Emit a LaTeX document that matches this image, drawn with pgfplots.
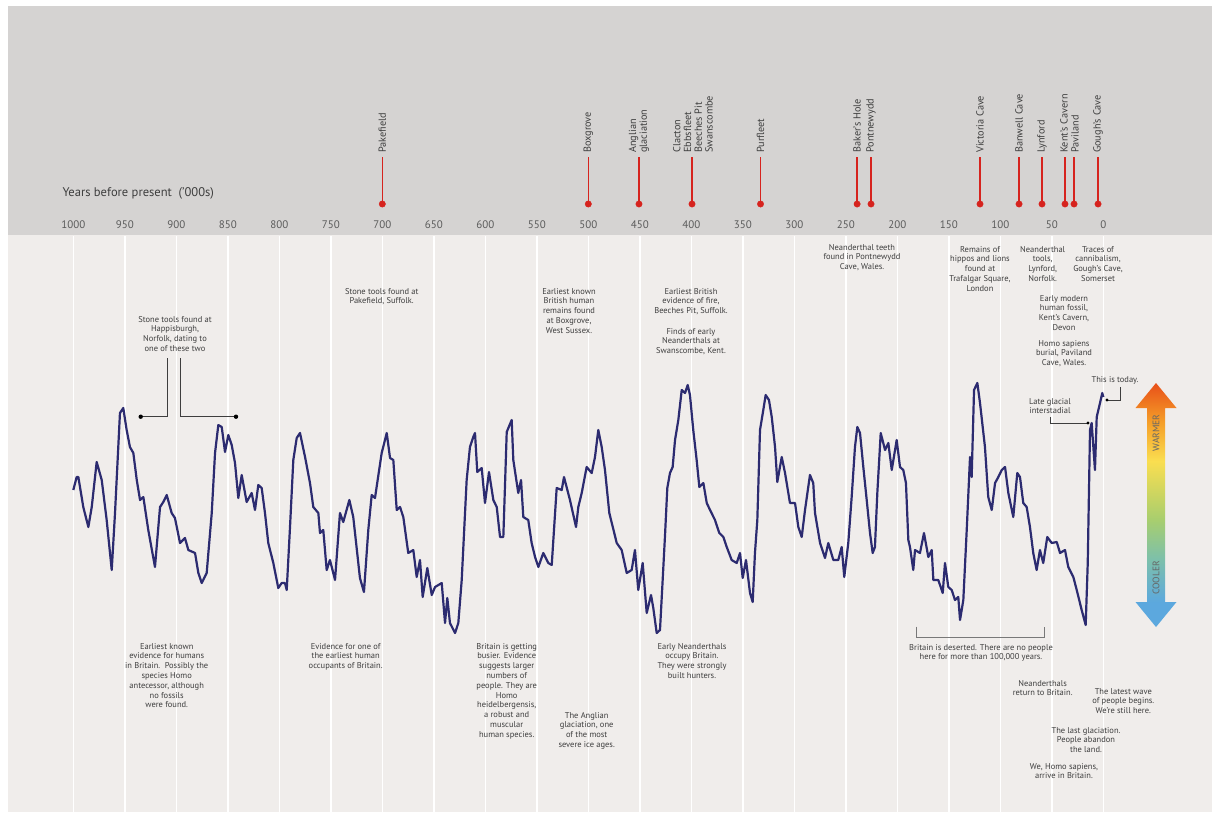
\documentclass[border=0pt]{standalone}
\usepackage{pgfplots}
\pgfplotsset{compat=1.18}
\usepackage{pgfplotstable}
\usepackage{fontspec}
\setmainfont{PT Sans}
\definecolor{band}{RGB}{213,211,210}
\definecolor{bg}{RGB}{240,237,235}
\definecolor{curvec}{RGB}{44,43,112}
\definecolor{site}{RGB}{214,35,30}
\definecolor{txt}{RGB}{62,62,62}
\definecolor{cblue}{RGB}{92,168,222}
\definecolor{cteal}{RGB}{125,192,170}
\definecolor{cgreen}{RGB}{168,206,110}
\definecolor{cyellow}{RGB}{250,222,80}
\definecolor{corange}{RGB}{245,158,40}
\definecolor{cred}{RGB}{232,80,25}
\pgfdeclareverticalshading{warmcool}{100bp}{color(0bp)=(cblue); color(30bp)=(cblue); color(39bp)=(cteal); color(47bp)=(cgreen); color(59bp)=(cyellow); color(67bp)=(corange); color(75bp)=(cred); color(100bp)=(cred)}
\newcommand\af{\fontsize{8.5}{9.8}\selectfont}
\newcommand\sitef{\fontsize{10.3}{10.8}\selectfont}

% climate record: kyr before present, relative temperature index (higher = warmer)
\pgfplotstableread{
kyr v
1000.0 324
996.7 337
995.1 337
990.3 307
985.4 287
982.1 307
977.3 352
972.4 334
967.6 294
962.7 244
959.5 301
954.7 401
951.5 406
948.2 384
945.0 367
941.7 361
938.4 334
935.2 314
932.0 317
927.2 284
920.7 247
915.8 307
912.6 312
909.3 319
904.5 301
901.3 296
896.4 271
891.6 276
888.3 264
881.8 261
878.6 241
875.3 231
870.5 241
865.6 301
862.4 361
859.2 389
855.9 387
852.7 362
849.5 379
846.2 369
843.0 351
839.8 316
836.5 339
831.7 312
826.8 321
823.6 304
820.4 329
817.1 326
813.9 301
810.7 271
805.8 251
801.0 226
797.7 231
794.5 231
792.8 224
789.6 287
786.4 354
783.1 376
779.9 381
775.0 357
770.2 331
767.0 307
762.1 301
760.5 281
757.3 284
754.0 244
750.8 254
745.9 234
741.1 301
737.9 292
732.0 314
728.2 297
721.7 236
717.8 222
713.6 284
710.3 319
707.1 316
700.6 361
695.7 381
692.5 356
689.3 354
686.0 304
682.8 307
679.6 297
674.8 261
669.9 264
666.6 237
663.4 254
660.8 217
656.3 246
652.0 219
648.8 227
642.3 231
639.1 191
636.9 216
634.3 191
629.4 181
626.2 191
622.9 234
618.1 334
614.9 367
611.7 377
610.0 381
607.8 342
603.5 346
600.3 311
596.4 342
592.2 314
588.9 307
585.7 277
582.5 277
579.2 382
574.4 394
572.8 354
568.0 321
565.3 334
563.1 297
558.3 294
555.0 271
551.7 257
548.5 247
543.7 261
538.8 251
535.5 249
530.7 326
525.8 324
523.6 337
517.8 314
511.9 287
509.7 307
506.4 321
501.6 347
496.7 341
493.5 357
490.3 384
487.0 367
483.8 344
479.6 301
472.4 271
467.6 264
462.7 241
457.9 244
454.7 264
451.5 224
447.2 251
443.3 201
439.1 219
436.9 206
433.6 181
430.4 184
427.8 234
425.5 279
423.3 326
420.7 341
418.1 347
415.8 374
412.6 394
409.3 424
406.1 421
403.5 429
401.3 419
398.1 384
394.8 354
392.2 327
388.3 331
385.0 311
381.8 304
377.0 294
372.8 281
368.9 277
365.6 267
360.8 254
355.9 251
352.7 261
350.1 236
346.9 254
343.0 221
340.4 212
338.2 261
335.9 294
333.3 384
330.1 404
327.8 419
324.6 414
321.9 397
318.7 367
316.5 332
312.2 357
309.0 341
304.2 311
299.3 311
296.1 287
292.8 277
289.6 304
284.8 339
281.6 331
279.9 301
275.0 271
270.2 256
267.0 271
262.1 254
257.3 254
254.0 267
251.5 237
247.6 271
244.3 317
241.1 367
238.8 387
236.2 381
233.0 347
229.7 314
226.5 281
223.9 261
221.7 267
219.4 321
216.1 381
211.9 364
208.7 371
205.4 344
200.6 374
197.4 347
194.2 344
191.6 331
189.3 274
187.7 267
184.5 244
182.8 264
178.0 261
174.1 281
169.9 257
166.6 264
165.0 234
160.2 234
155.9 221
153.7 251
150.5 227
147.2 224
144.0 214
140.8 217
139.1 194
135.9 214
132.6 284
129.4 357
127.8 337
125.5 424
122.3 431
119.7 411
114.9 367
111.7 317
108.3 304
105.1 331
101.9 337
98.6 344
95.4 347
92.2 321
87.4 297
83.5 341
80.9 337
77.7 311
74.4 307
71.2 287
68.0 261
64.7 244
61.5 264
58.3 251
54.4 277
50.1 271
45.2 272
42.0 261
37.2 264
34.0 247
29.1 237
25.8 224
21.0 204
17.1 189
15.1 251
12.9 384
11.3 391
8.1 344
6.4 397
3.2 411
1.0 421
0.0 417
}\climate

% sites: kyr before present, marker row on the page
\pgfplotstableread{
kyr row
700.0 204
500.0 204
450.8 204
399.3 204
332.8 204
239.0 204
225.5 204
119.7 204
81.8 204
59.5 204
37.2 204
28.4 204
5.1 204
}\sites

\begin{document}
\begin{tikzpicture}
\begin{axis}[
  scale only axis, width=1214bp, height=814bp,
  xmin=0, xmax=1214, ymin=0, ymax=814, y dir=reverse,
  hide axis, clip=false]
\fill[white] (axis cs:0,0) rectangle (axis cs:1214,814);
\fill[band] (axis cs:8,6) rectangle (axis cs:1212,235);
\fill[bg] (axis cs:8,235) rectangle (axis cs:1212,812);
\pgfplotsinvokeforeach{73.3,124.8,176.3,227.8,279.3,330.8,382.3,433.8,485.3,536.8,588.3,639.8,691.3,742.8,794.3,845.8,897.3,948.8,1000.3,1051.8,1103.3}{
  \draw[white, line width=1.4bp] (axis cs:#1,236) -- (axis cs:#1,812);
}
% axis title and tick labels
\node[anchor=west, text=txt, font=\fontsize{12.6}{13}\selectfont] at (axis cs:59,193) {Years before present\ \ (’000s)};
\begin{scope}[every node/.style={text=txt!85, font=\fontsize{11}{12}\selectfont}]
\node at (axis cs:73.3,225) {1000};
\node at (axis cs:124.8,225) {950};
\node at (axis cs:176.3,225) {900};
\node at (axis cs:227.8,225) {850};
\node at (axis cs:279.3,225) {800};
\node at (axis cs:330.8,225) {750};
\node at (axis cs:382.3,225) {700};
\node at (axis cs:433.8,225) {650};
\node at (axis cs:485.3,225) {600};
\node at (axis cs:536.8,225) {550};
\node at (axis cs:588.3,225) {500};
\node at (axis cs:639.8,225) {450};
\node at (axis cs:691.3,225) {400};
\node at (axis cs:742.8,225) {350};
\node at (axis cs:794.3,225) {300};
\node at (axis cs:845.8,225) {250};
\node at (axis cs:897.3,225) {200};
\node at (axis cs:948.8,225) {150};
\node at (axis cs:1000.3,225) {100};
\node at (axis cs:1051.8,225) {50};
\node at (axis cs:1103.3,225) {0};
\end{scope}
% site markers
\addplot[site, line width=1.4bp, no markers, quiver={u=0, v=-47}]
  table[x expr=1103.3-1.03*\thisrow{kyr}, y=row] {\sites};
\addplot[site, only marks, mark=*, mark size=3.2bp]
  table[x expr=1103.3-1.03*\thisrow{kyr}, y=row] {\sites};
\begin{scope}[every node/.style={rotate=90, anchor=west, align=left, text=txt, font=\sitef, inner sep=0pt}]
\node at (axis cs:382.3,153) {Pakefield};
\node at (axis cs:588.3,153) {Boxgrove};
\node at (axis cs:639,153) {Anglian\\glaciation};
\node at (axis cs:693,153) {Clacton\\Ebbsfleet\\Beeches Pit\\Swanscombe};
\node at (axis cs:760.5,153) {Purfleet};
\node at (axis cs:857,153) {Baker’s Hole};
\node at (axis cs:871,153) {Pontnewydd};
\node at (axis cs:980,153) {Victoria Cave};
\node at (axis cs:1019,153) {Banwell Cave};
\node at (axis cs:1042,153) {Lynford};
\node at (axis cs:1064,153) {Kent’s Cavern};
\node at (axis cs:1075,153) {Paviland};
\node at (axis cs:1098,153) {Gough’s Cave};
\end{scope}
% warmer / cooler arrow
\shade[shading=warmcool] (axis cs:1156,383) -- (axis cs:1176.5,408) -- (axis cs:1165,408) -- (axis cs:1165,602) -- (axis cs:1176.5,602) -- (axis cs:1156,627) -- (axis cs:1135.5,602) -- (axis cs:1147,602) -- (axis cs:1147,408) -- (axis cs:1135.5,408) -- cycle;
\node[rotate=90, text=txt!80, font=\fontsize{9.5}{10}\selectfont] at (axis cs:1156,433) {WARMER};
\node[rotate=90, text=txt!80, font=\fontsize{9.5}{10}\selectfont] at (axis cs:1156,578) {COOLER};
% connector lines
\draw[txt, line width=0.8bp] (axis cs:167.3,358) -- (axis cs:167.3,416.7) -- (axis cs:140.7,416.7);
\draw[txt, line width=0.8bp] (axis cs:180.7,358) -- (axis cs:180.7,416.7) -- (axis cs:236,416.7);
\fill[black] (axis cs:140.7,416.7) circle[radius=2.2bp];
\fill[black] (axis cs:236,416.7) circle[radius=2.2bp];
\draw[txt, line width=0.8bp] (axis cs:1107,400) -- (axis cs:1120,400) -- (axis cs:1120,387);
\fill[black] (axis cs:1107,400) circle[radius=1.6bp];
\draw[txt, line width=0.8bp] (axis cs:1050,417) -- (axis cs:1050,423) -- (axis cs:1088,423);
\fill[black] (axis cs:1088,423) circle[radius=1.6bp];
\draw[txt!70, line width=0.8bp] (axis cs:916.7,626.7) -- (axis cs:916.7,637.3) -- (axis cs:1044,637.3) -- (axis cs:1044,626.7);
% climate curve
\addplot[curvec, line width=2.2bp, no markers, line join=round]
  table[x expr=1103.3-1.03*\thisrow{kyr}, y expr=814-\thisrow{v}] {\climate};
% annotations
\begin{scope}[every node/.style={anchor=north, align=center, text=txt, font=\af, inner sep=0pt}]
\node at (axis cs:175,316) {Stone tools found at\\Happisburgh,\\Norfolk, dating to\\one of these two};
\node at (axis cs:381.7,288) {Stone tools found at\\Pakefield, Suffolk.};
\node at (axis cs:569,288) {Earliest known\\British human\\remains found\\at Boxgrove,\\West Sussex.};
\node at (axis cs:691,288) {Earliest British\\evidence of fire,\\Beeches Pit, Suffolk.};
\node at (axis cs:691,328) {Finds of early\\Neanderthals at\\Swanscombe, Kent.};
\node at (axis cs:862,244) {Neanderthal teeth\\found in Pontnewydd\\Cave, Wales.};
\node at (axis cs:980,246) {Remains of\\hippos and lions\\found at\\Trafalgar Square,\\London};
\node at (axis cs:1042.7,246) {Neanderthal\\tools,\\Lynford,\\Norfolk.};
\node at (axis cs:1098,246) {Traces of\\cannibalism,\\Gough’s Cave,\\Somerset};
\node at (axis cs:1064,295) {Early modern\\human fossil,\\Kent’s Cavern,\\Devon};
\node at (axis cs:1064,340) {Homo sapiens\\burial, Paviland\\Cave, Wales.};
\node at (axis cs:1115,376) {This is today.};
\node at (axis cs:1050,398) {Late glacial\\interstadial};
\node at (axis cs:166.7,643) {Earliest known\\evidence for humans\\in Britain.\ \ Possibly the\\species Homo\\antecessor, although\\no fossils\\were found.};
\node at (axis cs:345.7,643) {Evidence for one of\\the earliest human\\occupants of Britain.};
\node at (axis cs:506.7,643) {Britain is getting\\busier. Evidence\\suggests larger\\numbers of\\people. They are\\Homo\\heidelbergensis,\\a robust and\\muscular\\human species.};
\node at (axis cs:692,643) {Early Neanderthals\\occupy Britain.\\They were strongly\\built hunters.};
\node at (axis cs:586.7,712) {The Anglian\\glaciation, one\\of the most\\severe ice ages.};
\node at (axis cs:981,644) {Britain is deserted. There are no people\\here for more than 100,000 years.};
\node at (axis cs:1042.7,680) {Neanderthals\\return to Britain.};
\node at (axis cs:1123.3,688) {The latest wave\\of people begins.\\We’re still here.};
\node at (axis cs:1086,727) {The last glaciation.\\People abandon\\the land.};
\node at (axis cs:1064,763) {We, Homo sapiens,\\arrive in Britain.};
\end{scope}
\end{axis}
\end{tikzpicture}
\end{document}
